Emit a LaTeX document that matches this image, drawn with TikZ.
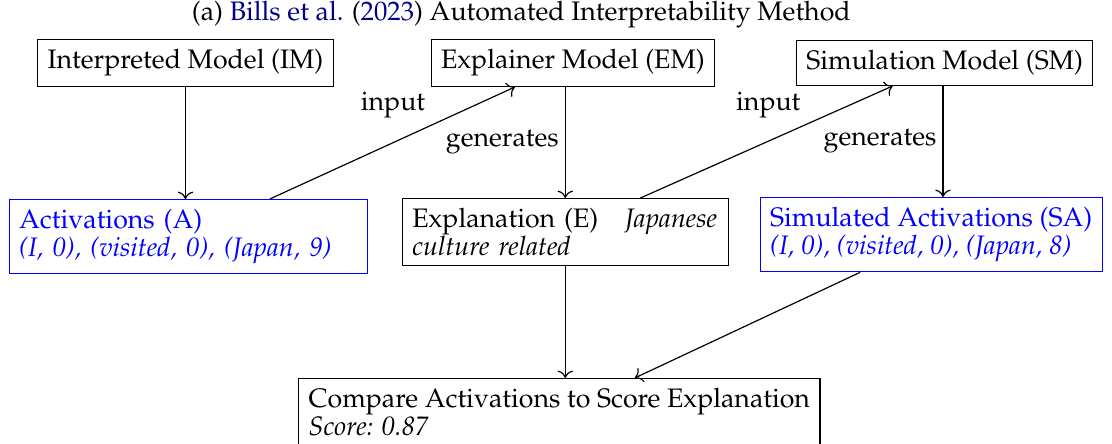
\documentclass[tikz,border=0pt]{standalone}
\usepackage[T1]{fontenc}
\usepackage{mathpazo}
\usepackage{xcolor}
\usepackage{tikz}
\usetikzlibrary{arrows.meta,positioning,calc}
\definecolor{citeblue}{rgb}{0,0,0.55}
\definecolor{actblue}{rgb}{0,0,1}
\tikzset{
  every node/.style={text=black},
  modelbox/.style={draw=black,thin,font=\small},
  twoline/.style={draw=black,thin,align=left,font={\fontsize{9}{9.3}\selectfont}},
  actbox/.style={twoline,draw=actblue,text=actblue},
  flow/.style={->,thin,draw=black},
  edgelabel/.style={font=\small,inner sep=2pt}
}

\begin{document}
\begin{tikzpicture}
  \useasboundingbox (0,0) rectangle (13.16,-5.243);
  \node[font=\small] (title) at (6.17,-0.17) {(a) \textcolor{citeblue}{Bills et al.} (\textcolor{citeblue}{2023}) Automated Interpretability Method};

  % models
  \node[modelbox] (im) at (2.195,-0.746) {Interpreted Model (IM)};
  \node[modelbox] (em) at (6.78,-0.746) {Explainer Model (EM)};
  \node[modelbox] (sm) at (11.18,-0.746) {Simulation Model (SM)};

  % activations and explanation
  \node[actbox,text width=114pt,anchor=north] (act) at (2.23,-2.355) {Activations (A)\\\textit{(I, 0), (visited, 0), (Japan, 9)}};
  \node[twoline,text width=103pt,anchor=north] (expl) at (6.69,-2.343) {Explanation (E)\quad\textit{Japanese}\\\textit{culture related}};
  \node[actbox,anchor=north] (sim) at (11.02,-2.331) {Simulated Activations (SA)\\\textit{(I, 0), (visited, 0), (Japan, 8)}};

  \node[twoline,anchor=north] (cmp) at (6.62,-4.473) {Compare Activations to Score Explanation\\\textit{Score: 0.87}};

  \draw[flow] (im) -- (im |- act.north);
  \draw[flow] ([xshift=27.4pt]act.north) -- node[edgelabel,pos=0.66,above left] {input} ([xshift=-19.5pt]em.south);
  \draw[flow] (expl.north |- em.south) -- node[edgelabel,left] {generates} (expl.north);
  \draw[flow] ([xshift=25.3pt]expl.north) -- node[edgelabel,pos=0.66,above left] {input} ([xshift=-17.5pt]sm.south);
  \draw[flow] (sm.south -| 11.16,0) -- node[edgelabel,left] {generates} (sim.north -| 11.16,0);
  \draw[flow] (expl.south) -- (expl.south |- cmp.north);
  \draw[flow] ([xshift=-23.9pt]sim.south) -- ([xshift=25.4pt]cmp.north);
\end{tikzpicture}
\end{document}
